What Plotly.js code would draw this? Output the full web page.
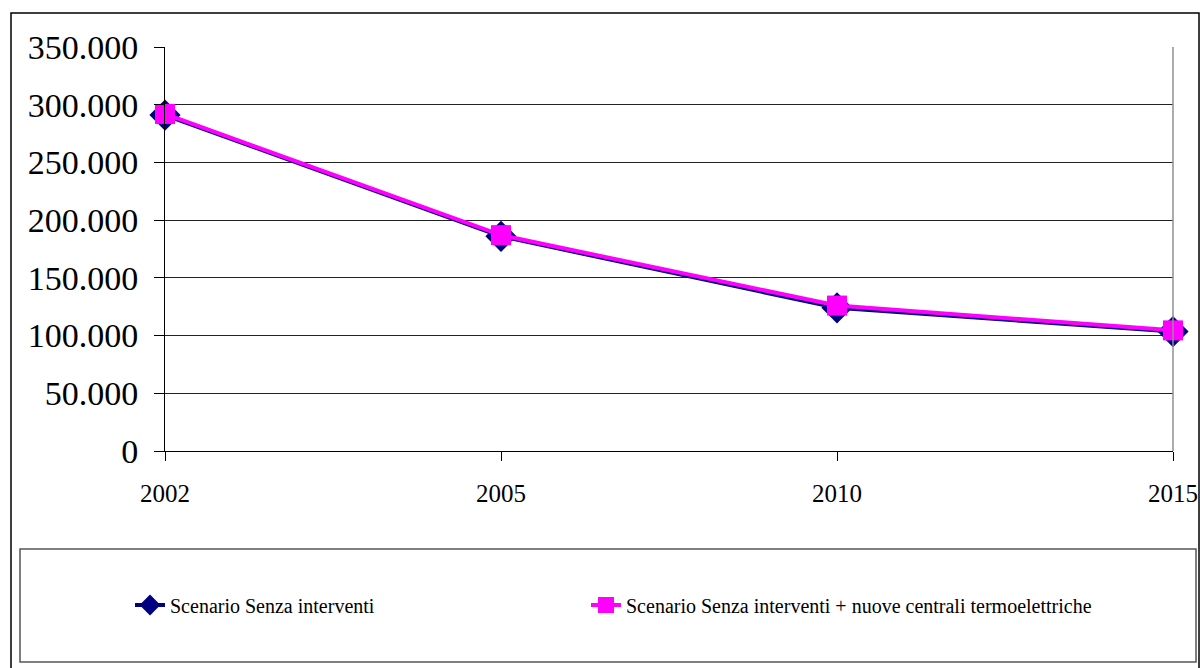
<!DOCTYPE html>
<html>
<head>
<meta charset="utf-8">
<script src="https://cdn.plot.ly/plotly-3.0.1.min.js"></script>
<style>
html,body{margin:0;padding:0;background:#fff;}
#chart{width:1200px;height:668px;}
</style>
</head>
<body>
<div id="chart"></div>
<script>
const years = ['2002', '2005', '2010', '2015'];
const seriesNames = ['Scenario Senza interventi', 'Scenario Senza interventi + nuove centrali termoelettriche'];
const senzaInterventi = [291000, 186000, 124000, 103500];
const conCentrali = [292000, 187000, 126000, 104500];
const yTicks = [0, 50000, 100000, 150000, 200000, 250000, 300000, 350000];

const SERIF = '"Liberation Serif", "Times New Roman", serif';
const W = 1200, H = 668;
const M = {l: 165, r: 27, t: 47, b: 217};
const pw = W - M.l - M.r, ph = H - M.t - M.b;
const px = x => (x - M.l) / pw;
const py = y => (H - M.b - y) / ph;

const traces = [
  {
    x: years, y: senzaInterventi, name: seriesNames[0], type: 'scatter', mode: 'lines+markers',
    line: {color: '#000080', width: 4},
    marker: {symbol: 'diamond', size: 24, color: '#000080'},
    cliponaxis: false, legend: 'legend'
  },
  {
    x: years, y: conCentrali, name: seriesNames[1], type: 'scatter', mode: 'lines+markers',
    line: {color: '#FF00FF', width: 4},
    marker: {symbol: 'square', size: 20, color: '#FF00FF'},
    cliponaxis: false, legend: 'legend2'
  }
];

const legendBase = {
  orientation: 'h', xanchor: 'left', y: py(605), yanchor: 'middle',
  font: {size: 20, family: SERIF, color: '#000'},
  bgcolor: 'rgba(0,0,0,0)', itemwidth: 30
};

const layout = {
  width: W, height: H,
  margin: M,
  paper_bgcolor: '#fff', plot_bgcolor: '#fff',
  separators: ',.',
  font: {family: SERIF, color: '#000'},
  showlegend: true,
  legend: Object.assign({}, legendBase, {x: px(130)}),
  legend2: Object.assign({}, legendBase, {x: px(586)}),
  xaxis: {
    type: 'category', range: [0, 3], showgrid: false,
    showline: true, linecolor: '#000', linewidth: 1, mirror: false,
    ticks: 'outside', ticklen: 9, tickcolor: '#000', tickwidth: 1,
    ticklabelstandoff: 11,
    tickfont: {size: 25, family: SERIF},
    zeroline: false, fixedrange: true
  },
  yaxis: {
    range: [0, 350000], tickvals: yTicks, tickformat: ',d',
    showgrid: true, gridcolor: '#222', gridwidth: 1,
    showline: true, linecolor: '#000', linewidth: 1,
    ticks: 'outside', ticklen: 10, tickcolor: '#000', tickwidth: 1,
    ticklabelstandoff: 9,
    tickfont: {size: 34, family: SERIF},
    zeroline: false, fixedrange: true
  },
  shapes: [
    {type: 'line', xref: 'paper', yref: 'paper', x0: 1, x1: 1, y0: 0, y1: 1, line: {color: '#909090', width: 1.5}},
    {type: 'rect', xref: 'paper', yref: 'paper', x0: px(11), x1: px(1199), y0: py(672), y1: py(13), line: {color: '#000', width: 1.5}, layer: 'below'},
    {type: 'rect', xref: 'paper', yref: 'paper', x0: px(20), x1: px(1196), y0: py(662), y1: py(549), line: {color: '#555', width: 1.5}, layer: 'below'}
  ]
};

Plotly.newPlot('chart', traces, layout, {displayModeBar: false, staticPlot: true});
</script>
</body>
</html>
